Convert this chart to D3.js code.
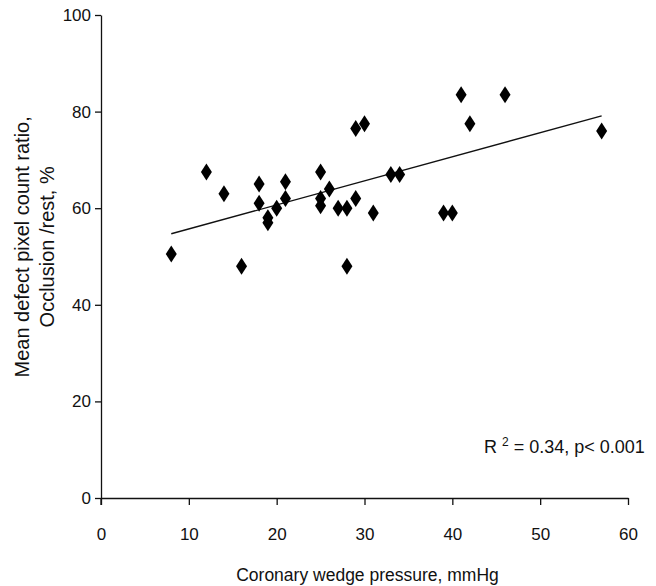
<!DOCTYPE html>
<html>
<head>
<meta charset="utf-8">
<script src="https://cdn.jsdelivr.net/npm/d3@7"></script>
<style>
  body { margin: 0; background: #fff; }
  svg text { font-family: "Liberation Sans", Arial, sans-serif; fill: #111; }
</style>
</head>
<body>
<div id="chart-area"><svg></svg></div>
<script>
const chartSize = { width: 656, height: 586 };
const margin = { left: 101, right: 28, top: 15, bottom: 88 };
const width = chartSize.width - (margin.left + margin.right);
const height = chartSize.height - (margin.top + margin.bottom);

// coronary wedge pressure (mmHg)
const pressure = [8, 12, 14, 16, 18, 18, 19, 19, 20, 21, 21, 25, 25, 25, 26,
  27, 28, 28, 29, 29, 30, 31, 33, 34, 39, 40, 41, 42, 46, 57];
// defect pixel count ratio occlusion/rest (%)
const ratio = [50.5, 67.5, 63, 48, 65, 61, 58, 57, 60, 65.5, 62, 67.5, 62, 60.5, 64,
  60, 60, 48, 62, 76.5, 77.5, 59, 67, 67, 59, 59, 83.5, 77.5, 83.5, 76];
// regression line end points
const fitX = [8, 57];
const fitY = [54.7, 79.1];
const xTicks = [0, 10, 20, 30, 40, 50, 60];
const yTicks = [0, 20, 40, 60, 80, 100];

const svg = d3.select("#chart-area svg")
  .attr("width", chartSize.width)
  .attr("height", chartSize.height);

const g = svg.append("g")
  .attr("transform", `translate(${margin.left}, ${margin.top})`);

const xScale = d3.scaleLinear().domain([0, 60]).range([0, width]);
const yScale = d3.scaleLinear().domain([0, 100]).range([height, 0]);

const xAxis = d3.axisBottom(xScale).tickValues(xTicks).tickSize(7).tickSizeOuter(0);
const yAxis = d3.axisLeft(yScale).tickValues(yTicks).tickSize(6).tickSizeOuter(0).tickPadding(4);

g.append("g")
  .attr("class", "x-axis")
  .attr("transform", `translate(0, ${height})`)
  .call(xAxis);

g.selectAll(".x-axis text")
  .attr("y", 30)
  .attr("font-size", 17);

g.append("g")
  .attr("class", "y-axis")
  .call(yAxis);

g.selectAll(".y-axis text").attr("font-size", 17);

g.selectAll(".domain, .tick line")
  .attr("stroke", "#111")
  .attr("stroke-width", 1.3);

// small tick below the origin
g.append("line")
  .attr("x1", 0).attr("x2", 0)
  .attr("y1", height).attr("y2", height + 7)
  .attr("stroke", "#111").attr("stroke-width", 1.3);

// regression line
const line = d3.line()
  .x(d => xScale(d[0]))
  .y(d => yScale(d[1]));

g.append("path")
  .datum(d3.zip(fitX, fitY))
  .attr("d", line)
  .attr("fill", "none")
  .attr("stroke", "#111")
  .attr("stroke-width", 1.4);

// diamonds
const points = d3.zip(pressure, ratio);
g.selectAll(".pt")
  .data(points)
  .enter()
  .append("path")
  .attr("class", "pt")
  .attr("d", "M0,-8.5L5.5,0L0,8.5L-5.5,0Z")
  .attr("transform", d => `translate(${xScale(d[0])}, ${yScale(d[1])})`)
  .attr("fill", "#000");

// annotation
const note = g.append("text")
  .attr("x", xScale(43.6))
  .attr("y", yScale(9.3))
  .attr("font-size", 18);
note.append("tspan").text("R ");
note.append("tspan").attr("font-size", 12).attr("dy", -7).text("2");
note.append("tspan").attr("dy", 7).text(" = 0.34, p< 0.001");

// axis titles
g.append("text")
  .attr("x", width / 2 + 3)
  .attr("y", height + 83)
  .attr("text-anchor", "middle")
  .attr("font-size", 17.5)
  .text("Coronary wedge pressure, mmHg");

const yTitle = g.append("text")
  .attr("transform", `translate(-72, ${yScale(52)}) rotate(-90)`)
  .attr("text-anchor", "middle")
  .attr("font-size", 20);
yTitle.append("tspan").attr("x", 0).attr("dy", 0).text("Mean defect pixel count ratio,");
yTitle.append("tspan").attr("x", 0).attr("dy", 25).text("Occlusion /rest, %");
</script>
</body>
</html>
